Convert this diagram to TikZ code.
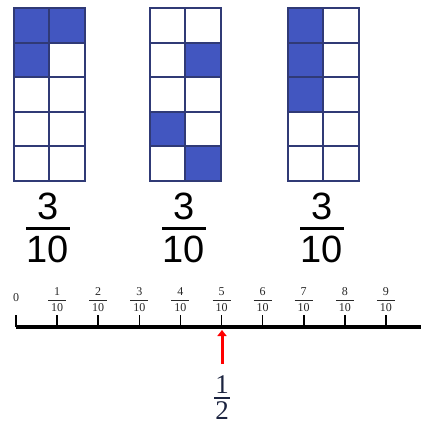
\documentclass[tikz,border=0pt]{standalone}
\usepackage{fontspec}
\setmainfont{Liberation Serif}
\newfontfamily\sansf{Liberation Sans}
\usetikzlibrary{arrows.meta}
\definecolor{cellblue}{RGB}{66,86,192}
\definecolor{gridline}{RGB}{48,58,118}
\definecolor{halfcol}{RGB}{28,36,64}
\definecolor{labgray}{RGB}{40,40,40}
\begin{document}
\begin{tikzpicture}[x=1pt,y=-1pt,
  bigdigit/.style={inner sep=0pt,font=\sansf\fontsize{38}{40}\selectfont},
  smalldigit/.style={inner sep=0pt,text=labgray,font=\fontsize{12}{13}\selectfont},
  halfdigit/.style={inner sep=0pt,text=halfcol,font=\fontsize{27}{29}\selectfont},
  gridstyle/.style={draw=gridline,line width=2pt},
  barstyle/.style={line width=3pt},
  axisstyle/.style={line width=4pt},
  tickstyle/.style={line width=1.6pt},
  arrowstyle/.style={red,line width=3pt,-{Triangle[length=6pt,width=9pt]}}]
\useasboundingbox (0,0) rectangle (421,426);
\fill[white] (0,0) rectangle (421,426);
% filled cells
\foreach \gx/\c/\r in {14/0/0,14/1/0,14/0/1,150/1/1,150/0/3,150/1/4,288/0/0,288/0/1,288/0/2}
  \fill[cellblue] ({\gx+\c*35.3},{8+\r*34.6}) rectangle ++(35.3,34.6);
% grid lines
\foreach \gx in {14,150,288}{
  \foreach \r in {0,...,5} \draw[gridstyle] (\gx-1,{8+\r*34.6}) -- (\gx+71.6,{8+\r*34.6});
  \foreach \c in {0,1,2} \draw[gridstyle] ({\gx+\c*35.3},7) -- ({\gx+\c*35.3},182);
}
% fractions 3/10
\foreach \i/\fx in {1/48,2/184,3/322}{
  \node[bigdigit] (num\i) at (\fx,206) {3};
  \node[bigdigit] (den\i) at (\fx,249) {10};
  \draw[barstyle] (\fx-22,228) -- (\fx+22,228);
}
% number line
\coordinate (a0) at (16,327);
\coordinate (aend) at (421,327);
\draw[axisstyle] (a0) -- (aend);
\node[smalldigit] (zero) at (16,298) {0};
\draw[tickstyle] (16,315) -- (a0);
\foreach \i in {1,...,9}{
  \coordinate (t\i) at ({16+\i*41.1},327);
  \draw[tickstyle] ({16+\i*41.1},315) -- (t\i);
  \node[smalldigit] (tn\i) at ({16+\i*41.1},292) {\i};
  \node[smalldigit] (td\i) at ({16+\i*41.1},308) {10};
  \draw[line width=0.8pt,labgray] ({16+\i*41.1-9},300) -- ({16+\i*41.1+9},300);
}
% arrow and 1/2
\coordinate (atail) at (222,364);
\coordinate (ahead) at (222,330);
\draw[arrowstyle] (atail) -- (ahead);
\node[halfdigit] (hn) at (222,385) {1};
\node[halfdigit] (hd) at (222,411) {2};
\draw[line width=1.5pt,halfcol] (214,398) -- (230,398);
\end{tikzpicture}
\end{document}
